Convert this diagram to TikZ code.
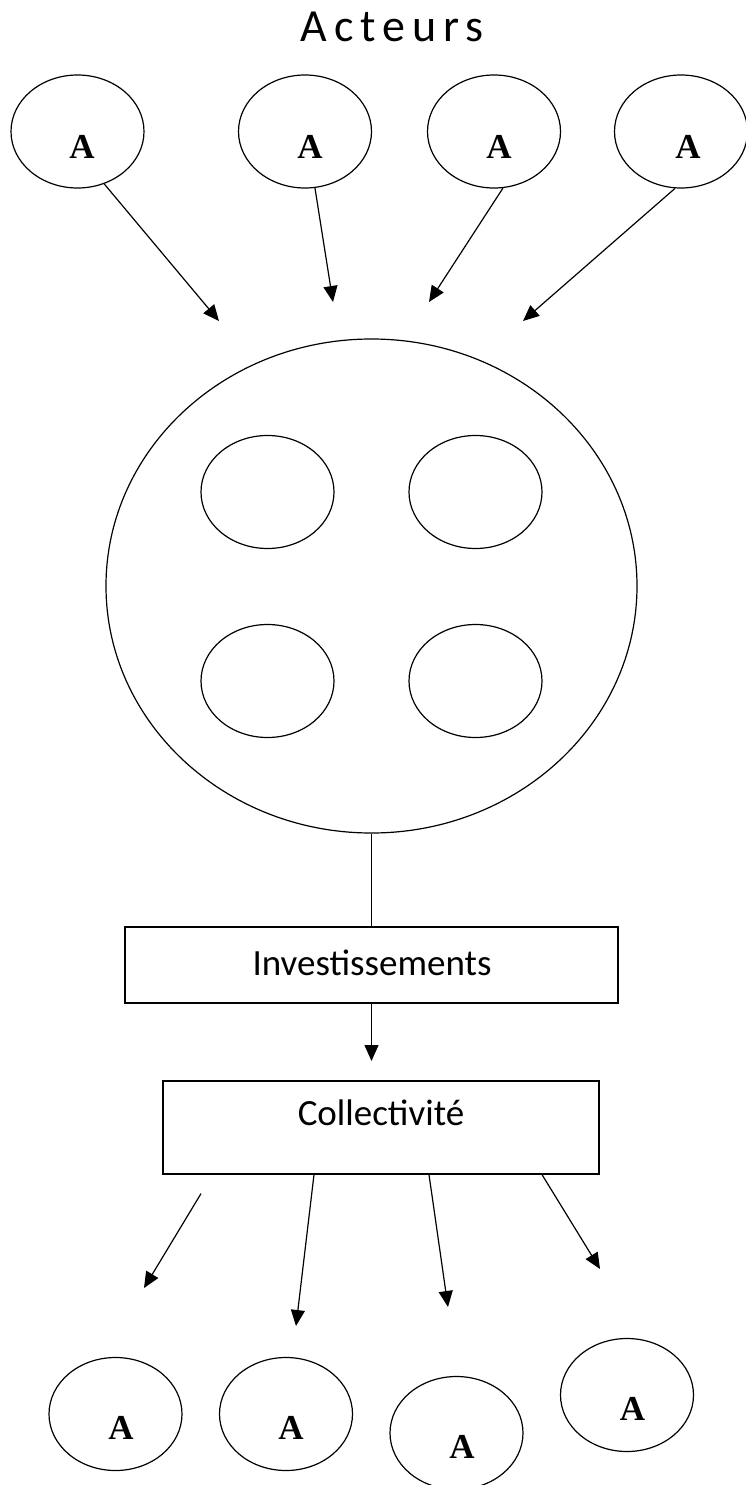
\documentclass[tikz,border=0pt]{standalone}
\usepackage{fontspec}
\setmainfont{Liberation Serif}
\newfontfamily\sansf{Carlito}
\newfontfamily\titlef[LetterSpace=15]{Carlito}
\usetikzlibrary{shapes.geometric,arrows.meta}
\begin{document}
\begin{tikzpicture}[x=1pt,y=-1pt,
  ell/.style={draw, ellipse, line width=1.2pt, minimum width=133pt, minimum height=113pt, inner sep=0pt},
  lettre/.style={font=\fontsize{35}{40}\selectfont\bfseries, inner sep=0pt},
  boite/.style={draw, rectangle, line width=1.2pt, inner sep=0pt},
  fl/.style={line width=1.2pt, -{Triangle[length=16pt,width=14pt]}},
  lbl/.style={font=\sansf\fontsize{37}{40}\selectfont, inner sep=0pt}]
\useasboundingbox (0,0) rectangle (746,1485);
% title
\node[font=\titlef\fontsize{46}{50}\selectfont, inner sep=0pt] (titre) at (392,27) {Acteurs};
% top actors
\node[ell] (t1) at (77.5,131.5) {};
\node[ell] (t2) at (305,131.5) {};
\node[ell] (t3) at (494,131.5) {};
\node[ell] (t4) at (681,131.5) {};
\node[lettre] (t1A) at (82,147) {A};
\node[lettre] (t2A) at (310,147) {A};
\node[lettre] (t3A) at (499,147) {A};
\node[lettre] (t4A) at (688,147) {A};
\coordinate (tip1) at (219,321);
\coordinate (tip2) at (333,302);
\coordinate (tip3) at (429,302);
\coordinate (tip4) at (523,321);
\draw[fl] (t1.-63) -- (tip1);
\draw[fl] (t2.-80) -- (tip2);
\draw[fl] (t3.-81) -- (tip3);
\draw[fl] (t4.-96) -- (tip4);
% big circle
\node[draw, ellipse, line width=1.2pt, minimum width=531pt, minimum height=494pt, inner sep=0pt] (big) at (371.5,586) {};
\node[ell] (i1) at (267.5,492) {};
\node[ell] (i2) at (475.5,492) {};
\node[ell] (i3) at (267.5,681) {};
\node[ell] (i4) at (475.5,681) {};
% boxes
\node[boite, minimum width=493pt, minimum height=76pt] (inv) at (371.5,965) {};
\node[lbl] (invT) at (372,963) {Investissements};
\draw[line width=1.2pt] (big.south) -- (inv.north);
\coordinate (tipc) at (371.5,1061);
\draw[fl] (inv.south) -- (tipc);
\node[boite, minimum width=436pt, minimum height=93pt] (coll) at (381,1127.5) {};
\node[lbl] (collT) at (381,1113) {Collectivité};
% bottom arrows
\coordinate (bt1) at (144,1288);
\coordinate (bt2) at (296,1326);
\coordinate (bt3) at (448,1307);
\coordinate (bt4) at (600,1269);
\draw[fl] ([xshift=-180pt,yshift=-19pt]coll.south) -- (bt1);
\draw[fl] ([xshift=-67pt]coll.south) -- (bt2);
\draw[fl] ([xshift=48pt]coll.south) -- (bt3);
\draw[fl] ([xshift=161pt]coll.south) -- (bt4);
% bottom actors
\node[ell] (b1) at (115.5,1414) {};
\node[ell] (b2) at (286,1414) {};
\node[ell] (b3) at (456.5,1433) {};
\node[ell] (b4) at (627,1395) {};
\node[lettre] (b1A) at (121,1428) {A};
\node[lettre] (b2A) at (291,1428) {A};
\node[lettre] (b3A) at (462,1447) {A};
\node[lettre] (b4A) at (632.5,1409) {A};
\end{tikzpicture}
\end{document}
